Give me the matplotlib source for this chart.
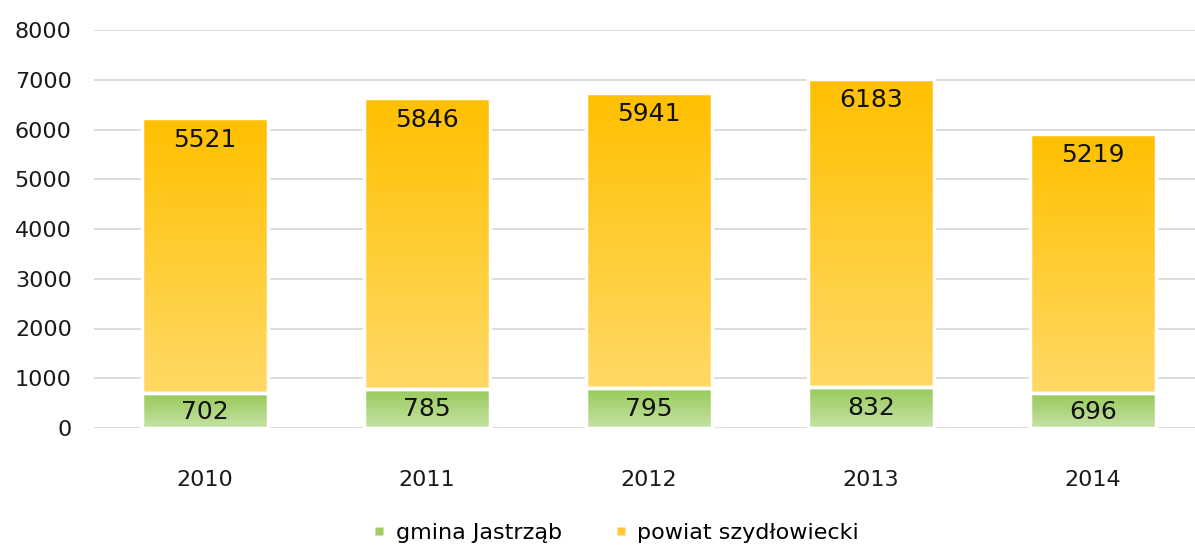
import numpy as np
import matplotlib.pyplot as plt
from matplotlib.colors import LinearSegmentedColormap

# dane
lata = ["2010", "2011", "2012", "2013", "2014"]
gmina = [702, 785, 795, 832, 696]
powiat = [5521, 5846, 5941, 6183, 5219]

plt.rcParams['font.family'] = ['DejaVu Sans']

fig = plt.figure(figsize=(11.95, 5.47), dpi=100)
ax = fig.add_axes([94 / 1195, 1 - 428 / 547, 1110 / 1195, 398 / 547])

x = np.arange(len(lata))
w = 0.57

zielony = LinearSegmentedColormap.from_list("g", ["#c6e2a6", "#97c957"])
pomar = LinearSegmentedColormap.from_list("o", ["#ffd966", "#ffc000"])
grad = np.linspace(0, 1, 256).reshape(-1, 1)

b1 = ax.bar(x, gmina, w, color="none", edgecolor="white", linewidth=2.5, zorder=3)
b2 = ax.bar(x, powiat, w, bottom=gmina, color="none", edgecolor="white",
            linewidth=2.5, zorder=3)

for bars, cmap in [(b1, zielony), (b2, pomar)]:
    for p in bars:
        x0, y0 = p.get_x(), p.get_y()
        im = ax.imshow(grad, cmap=cmap, aspect="auto", origin="lower",
                       extent=[x0, x0 + p.get_width(), y0, y0 + p.get_height()],
                       zorder=2)
        im.set_clip_path(p)

for i in range(len(lata)):
    ax.text(x[i], gmina[i] / 2 - 20, str(gmina[i]), ha="center", va="center",
            fontsize=18, color="#111111", zorder=4)
    ax.text(x[i], gmina[i] + powiat[i] - 430, str(powiat[i]), ha="center",
            va="center", fontsize=18, color="#111111", zorder=4)

ax.set_xlim(-0.5, len(lata) - 0.5)
ax.set_ylim(0, 8000)
ax.set_yticks(range(0, 8001, 1000))
ax.set_xticks(x)
ax.set_xticklabels(lata)
ax.tick_params(axis="both", length=0, labelsize=16, colors="#1a1a1a")
ax.tick_params(axis="y", pad=16)
ax.tick_params(axis="x", pad=30)
ax.yaxis.grid(True, color="#d9d9d9", linewidth=1.3, zorder=0)
ax.set_axisbelow(True)
for s in ax.spines.values():
    s.set_visible(False)

# legenda
h1 = plt.Line2D([], [], marker="s", linestyle="none", markersize=6,
                markerfacecolor="#9fcd60", markeredgecolor="none")
h2 = plt.Line2D([], [], marker="s", linestyle="none", markersize=6,
                markerfacecolor="#ffc832", markeredgecolor="none")
fig.legend([h1, h2], ["gmina Jastrząb", "powiat szydłowiecki"], loc="center",
           bbox_to_anchor=(615 / 1195, 1 - 533 / 547), ncol=2, frameon=False,
           fontsize=16, handlelength=0.7, handletextpad=0.4, columnspacing=2.3)

fig.savefig("out.png", dpi=100)
